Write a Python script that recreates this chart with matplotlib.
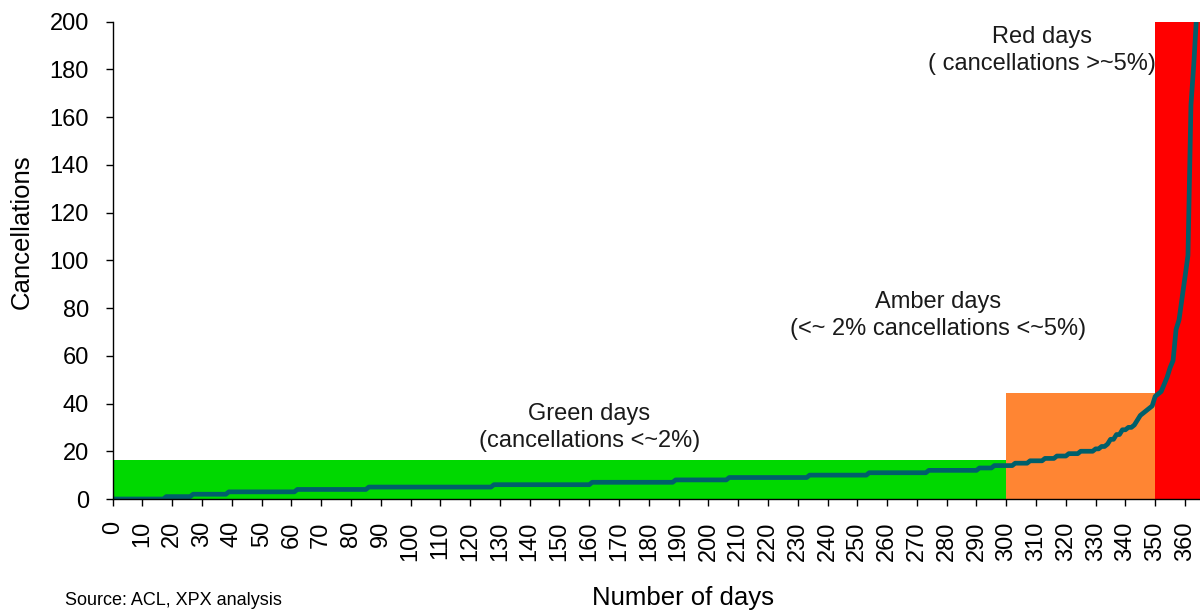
import numpy as np
import matplotlib
matplotlib.use("Agg")
import matplotlib.pyplot as plt

plt.rcParams['font.family'] = ['Liberation Sans', 'DejaVu Sans']

# Días ordenados: cada tramo empieza en un día y mantiene su valor hasta el siguiente
step_start = [0, 18, 27, 39, 62, 86, 128, 161, 189, 207, 234, 254, 274, 291, 296,
              303, 308, 313, 317, 321, 325, 330, 332, 334, 335, 337, 339, 341, 343, 344,
              345, 346, 347, 348, 349, 350, 351, 352, 353, 354, 355, 356, 357, 358, 359,
              360, 361, 362, 363, 364]
step_value = [0, 1, 2, 3, 4, 5, 6, 7, 8, 9, 10, 11, 12, 13, 14,
              15, 16, 17, 18, 19, 20, 21, 22, 23, 25, 27, 29, 30, 31, 33,
              35, 36, 37, 38, 39, 43, 44, 45, 48, 51, 55, 58, 71, 75, 84,
              93, 102, 165, 183, 205]
total_days = 365

# Bandas de color
band_names = ["Green", "Amber", "Red"]
band_start = [0, 300, 350]
band_end = [300, 350, 365]
band_top = [16.5, 44.5, 200]
band_color = ["#00d800", "#ff8533", "#ff0000"]

band_text = ["Green days\n(cancellations <~2%)",
             "Amber days\n(<~ 2% cancellations <~5%)",
             "Red days\n( cancellations >~5%)"]
text_pos = [(160, 30), (277, 77), (312, 188)]

counts = np.diff(step_start + [total_days])
daily = np.repeat(step_value, counts)
days = np.arange(total_days)

fig = plt.figure(figsize=(12, 6.11), dpi=100)
ax = fig.add_axes([0.0939, 0.1833, 0.906, 0.7815])

ax.bar(band_start, np.array(band_top), width=np.array(band_end) - np.array(band_start),
       align="edge", color=band_color, linewidth=0, zorder=1)
ax.plot(days, daily, color="#005f6b", linewidth=3.4, solid_joinstyle="round", zorder=3)

for txt, (tx, ty) in zip(band_text, text_pos):
    ax.text(tx, ty, txt, ha="center", va="center", fontsize=17, linespacing=1.3,
            color="#1a1a1a", zorder=4)

ax.set_xlim(0, total_days)
ax.set_ylim(0, 200)
ax.set_xticks(range(0, 361, 10))
ax.set_yticks(range(0, 201, 20))
ax.tick_params(axis="x", labelrotation=90, labelsize=17, length=5, width=1, pad=11)
ax.tick_params(axis="y", labelsize=17, length=5, width=1, pad=12)

for side in ["top", "right"]:
    ax.spines[side].set_visible(False)
for side in ["left", "bottom"]:
    ax.spines[side].set_linewidth(1)
    ax.spines[side].set_zorder(5)

fig.text(22 / 1200, 1 - 232 / 611, "Cancellations", rotation=90, ha="center", va="center", fontsize=18.5)
fig.text(683 / 1200, 1 - 598 / 611, "Number of days", ha="center", va="center", fontsize=18.5)
fig.text(65 / 1200, 1 - 609 / 611, "Source: ACL, XPX analysis", ha="left", va="bottom", fontsize=13)

fig.savefig("out.png", dpi=100)
